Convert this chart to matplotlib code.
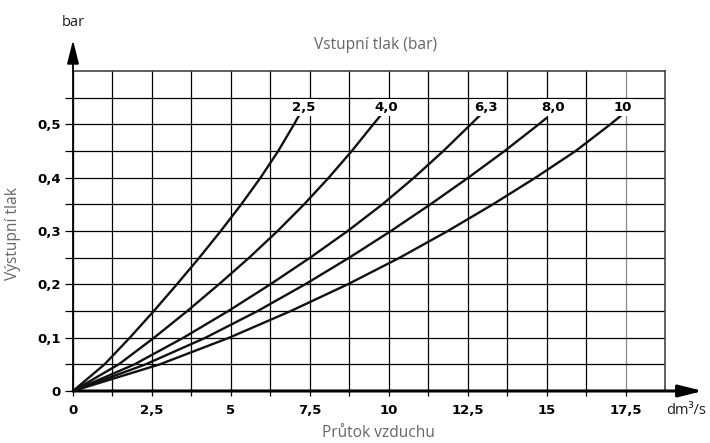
# Vystupni tlak vs. prutok vzduchu pro ruzne vstupni tlaky

import matplotlib
matplotlib.use('Agg')
import matplotlib.pyplot as plt
import numpy as np

# odectene body krivek (prutok dm3/s) pro vystupni tlak po 0,05 bar
p_out = [0, 0.05, 0.1, 0.15, 0.2, 0.25, 0.3, 0.35, 0.4, 0.45, 0.5]
q_25 = [0, 1.0, 1.8, 2.56, 3.29, 4.0, 4.68, 5.33, 5.94, 6.5, 7.0]
q_40 = [0, 1.45, 2.57, 3.62, 4.62, 5.58, 6.48, 7.32, 8.1, 8.83, 9.51]
q_63 = [0, 1.95, 3.5, 4.92, 6.25, 7.51, 8.7, 9.8, 10.8, 11.73, 12.6]
q_80 = [0, 2.3, 4.2, 5.85, 7.35, 8.75, 10.07, 11.32, 12.52, 13.67, 14.75]
q_100 = [0, 2.75, 4.95, 6.9, 8.7, 10.35, 11.87, 13.3, 14.65, 15.92, 17.02]

# konce krivek u popisku
end_q = [7.19, 9.83, 12.89, 15.0, 17.37]
end_p = [0.52, 0.523, 0.517, 0.512, 0.517]

curves = [q_25, q_40, q_63, q_80, q_100]
curve_labels = ['2,5', '4,0', '6,3', '8,0', '10']
label_x = [7.32, 9.92, 13.08, 15.2, 17.42]

x_major = [0, 2.5, 5, 7.5, 10, 12.5, 15, 17.5]
x_labels = ['0', '2,5', '5', '7,5', '10', '12,5', '15', '17,5']
y_major = [0, 0.1, 0.2, 0.3, 0.4, 0.5]
y_labels = ['0', '0,1', '0,2', '0,3', '0,4', '0,5']

W, H = 710, 443
fig = plt.figure(figsize=(7.1, 4.43), dpi=100)
ax = fig.add_axes([73 / W, 52 / H, 592 / W, 320 / H])
ax.set_xlim(0, 18.75)
ax.set_ylim(0, 0.6)

ax.set_xticks(x_major)
ax.set_xticklabels(x_labels)
ax.set_xticks(np.arange(1.25, 17, 2.5), minor=True)
ax.set_yticks(y_major)
ax.set_yticklabels(y_labels)
ax.set_yticks(np.arange(0.05, 0.56, 0.1), minor=True)

ax.grid(which='both', color='black', lw=0.9)
ax.xaxis.get_gridlines()[7].set_color('#8a8a8a')
ax.set_axisbelow(True)

ax.tick_params(axis='x', which='both', direction='out', length=3.6, width=0.9, pad=6,
               labelsize=9.5)
ax.tick_params(axis='y', which='both', direction='out', length=5.8, width=0.9, pad=3,
               labelsize=9.5)
for t in ax.get_xticklabels() + ax.get_yticklabels():
    t.set_fontweight('bold')

for s in ['left', 'bottom']:
    ax.spines[s].set_visible(False)
for s in ['top', 'right']:
    ax.spines[s].set_color('#444444')
    ax.spines[s].set_linewidth(1.2)

# osy se sipkami
ax.annotate('', xy=(19.95, 0), xytext=(0, 0), annotation_clip=False,
            arrowprops=dict(arrowstyle='-|>,head_length=0.8,head_width=0.2', lw=2.2,
                            color='black', mutation_scale=18, shrinkA=0, shrinkB=0))
ax.annotate('', xy=(0, 0.658), xytext=(0, 0), annotation_clip=False,
            arrowprops=dict(arrowstyle='-|>,head_length=0.8,head_width=0.2', lw=1.3,
                            color='black', mutation_scale=18, shrinkA=0, shrinkB=0))

for q, qe, pe, lab, lx in zip(curves, end_q, end_p, curve_labels, label_x):
    ax.plot(q + [qe], p_out + [pe], color='#111111', lw=1.7,
            solid_capstyle='round', solid_joinstyle='round', zorder=3)
    ax.text(lx, 0.531, lab, ha='center', va='center', fontsize=9.5, fontweight='bold',
            bbox=dict(fc='white', ec='none', pad=1.5), zorder=4)

gray = '#666666'
fam = ['Open Sans', 'DejaVu Sans']
fig.text(376 / W, 1 - 45 / H, 'Vstupní tlak (bar)', ha='center', va='center',
         fontsize=11.2, color=gray, family=fam)
fig.text(378 / W, 1 - 433 / H, 'Průtok vzduchu', ha='center', va='center',
         fontsize=11.2, color=gray, family=fam)
fig.text(13 / W, 1 - 233 / H, 'Výstupní tlak', ha='center', va='center',
         fontsize=11.2, color=gray, family=fam, rotation=90)
fig.text(73 / W, 1 - 22 / H, 'bar', ha='center', va='center', fontsize=10.5,
         color='#1a1a1a', family=fam)
fig.text(686 / W, 1 - 410 / H, 'dm³/s', ha='center', va='center', fontsize=10.5,
         color='#1a1a1a', family=fam)

fig.savefig('out.png', dpi=100)
